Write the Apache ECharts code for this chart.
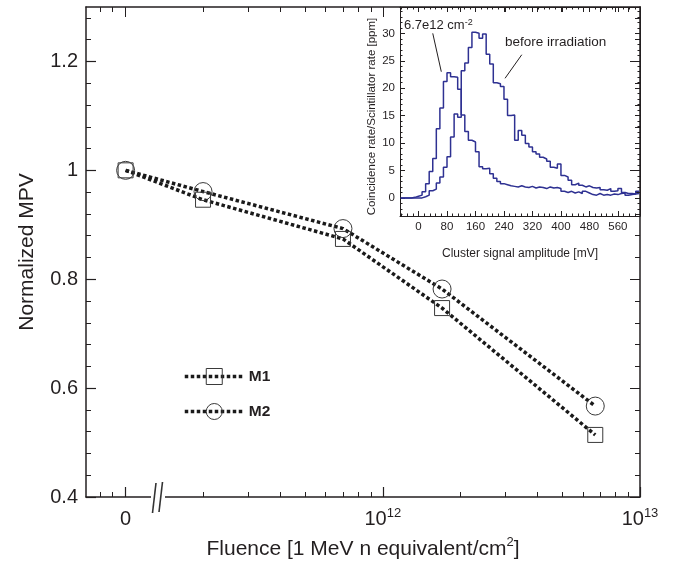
<!DOCTYPE html>
<html><head><meta charset="utf-8">
<script src="https://cdn.jsdelivr.net/npm/echarts@6/dist/echarts.min.js"></script>
<style>html,body{margin:0;padding:0;background:#fff}#c{width:673px;height:572px}</style>
</head><body><div id="c"></div>
<script>
// ---------------- data: main plot ----------------
const fluence = [0, 2e11, 7e11, 1.7e12, 6.7e12];          // 1 MeV n eq / cm^2
const mpvM1   = [1.000, 0.946, 0.874, 0.747, 0.514];
const mpvM2   = [1.000, 0.961, 0.893, 0.782, 0.567];
const seriesNames = ['M1', 'M2'];

const xTickFluence = [0, 1e12, 1e13];
const xTickLabels  = ['0', '10{sup|12}', '10{sup|13}'];
const xMinorFluence = [2e11,3e11,4e11,5e11,6e11,7e11,8e11,9e11,2e12,3e12,4e12,5e12,6e12,7e12,8e12,9e12];
const xLinearMinorPos = [10.9, 10.95];    // minor ticks left of "0" on the linear part
const yMajor = [0.4, 0.6, 0.8, 1.0, 1.2];
const yMinor = [0.44,0.48,0.52,0.56,0.64,0.68,0.72,0.76,0.84,0.88,0.92,0.96,1.04,1.08,1.12,1.16,1.24,1.28];

// ---------------- data: inset histogram ----------------
const binLeft = [-50,-40,-30,-20,-10,0,10,20,30,40,50,60,70,80,90,100,110,120,130,140,150,160,170,180,190,
  200,210,220,230,240,250,260,270,280,290,300,310,320,330,340,350,360,370,380,390,400,410,420,430,440,
  450,460,470,480,490,500,510,520,530,540,550,560,570,580,590,600,610];
const BIN_WIDTH = 10;
const rateBefore = [0,0,0,0,0,0,0.2,0.5,1.3,1.6,2.7,3.8,5.6,7.5,11.1,15.3,14.7,23.2,24.6,27.4,30.2,30.0,29.1,29.9,26.2,
  24.4,21.0,20.8,20.3,18.0,15.0,15.1,10.5,12.3,11.4,9.9,9.3,8.4,8.0,7.4,7.1,6.7,5.6,5.4,6.2,4.1,3.8,3.2,2.4,2.7,
  2.3,2.0,2.2,1.9,1.8,1.9,1.5,1.4,1.7,1.2,1.3,1.7,1.0,0.8,0.8,0.7,1.2];
const rateIrradiated = [0,0,0,0.1,0.3,0.5,1.1,2.6,4.8,7.2,12.6,16.4,21.2,22.8,22.1,22.0,19.8,15.1,12.1,10.5,10.2,8.4,5.7,5.3,5.4,
  4.4,3.6,3.0,2.6,2.4,2.2,2.1,2.0,2.2,2.0,1.9,2.1,1.8,2.0,1.9,1.7,2.0,1.8,1.9,1.7,1.2,1.0,1.2,0.9,1.1,
  0.8,1.2,0.9,0.6,0.5,0.8,0.5,0.6,0.5,0.7,0.6,0.8,0.9,0.5,0.6,0.7,0.8];
const mvTicks = [0,80,160,240,320,400,480,560];
const mvMinor = [-48,-32,-16,16,32,48,64,96,112,128,144,176,192,208,224,256,272,288,304,336,352,368,384,416,432,448,464,496,512,528,544,576,592,608];
const rateTicks = [0,5,10,15,20,25,30];
const rateMinor = [-3,-2,-1,1,2,3,4,6,7,8,9,11,12,13,14,16,17,18,19,21,22,23,24,26,27,28,29,31,32,33,34];
// annotation arrows (data coords of inset): [from, to]
const arrowIrr = [[40, 30.0], [64, 23.0]];
const arrowBefore = [[290, 26.1], [243, 21.8]];

// ---------------- helpers ----------------
const FONT = '"Liberation Sans", Arial, Helvetica, sans-serif';
const INK = '#231f20';
const BLUE = '#2e3192';
const ZERO_POS = 11;            // axis position where fluence 0 is drawn (left of the break)
function pos(f) { return f === 0 ? ZERO_POS : Math.log10(f); }
const X_MIN = 10.846, X_MAX = 13;

function stepData(vals) {
  const d = binLeft.map((x, i) => [x, vals[i]]);
  d.push([binLeft[binLeft.length - 1] + BIN_WIDTH, vals[vals.length - 1]]);
  return d;
}
function tickOnly(gridIndex, position, min, max, values, len, showLine, lw) {
  return {
    type: 'value', gridIndex, position, min, max,
    axisLine: { show: !!showLine, onZero: false, lineStyle: { color: INK, width: lw || 1 } },
    axisTick: { show: true, inside: true, length: len, customValues: values, lineStyle: { color: INK, width: 1 } },
    axisLabel: { show: false }, splitLine: { show: false }
  };
}
const supRich = { sup: { fontSize: 13, lineHeight: 13, verticalAlign: 'top', fontFamily: FONT, color: INK } };

const xMajorPos = xTickFluence.map(pos);
const xMinorPos = xLinearMinorPos.concat(xMinorFluence.map(pos));

const chart = echarts.init(document.getElementById('c'), null, { renderer: 'canvas' });
const option = {
  animation: false,
  backgroundColor: '#fff',
  textStyle: { fontFamily: FONT },
  grid: [
    { left: 86, right: 33, top: 7, bottom: 75 },
    { left: 400, right: 33, top: 7, bottom: 356, show: true, backgroundColor: '#fff', borderWidth: 0 }
  ],
  legend: {
    orient: 'vertical', left: 178, top: 363, itemWidth: 59, itemHeight: 20, itemGap: 18,
    data: seriesNames, selectedMode: false,
    textStyle: { fontSize: 15.5, fontWeight: 'bold', color: INK, fontFamily: FONT },
    itemStyle: { borderWidth: 1 },
    lineStyle: { width: 3.5, type: [3.5, 2.5] }
  },
  xAxis: [
    {
      type: 'value', gridIndex: 0, position: 'bottom', min: X_MIN, max: X_MAX,
      axisLine: { show: true, onZero: false, lineStyle: { color: INK, width: 1.5 } },
      axisTick: { show: true, inside: true, length: 10, customValues: xMajorPos, lineStyle: { color: INK, width: 1.2 } },
      axisLabel: {
        customValues: xMajorPos, margin: 10, fontSize: 20, lineHeight: 24, color: INK, fontFamily: FONT,
        showMinLabel: true, showMaxLabel: true, hideOverlap: false,
        formatter: function (v) {
          for (let i = 0; i < xMajorPos.length; i++) if (Math.abs(xMajorPos[i] - v) < 1e-6) return xTickLabels[i];
          return '';
        },
        rich: supRich
      },
      splitLine: { show: false },
      name: 'Fluence [1 MeV n equivalent/cm{sup|2}]', nameLocation: 'middle', nameGap: 38,
      nameTextStyle: { fontSize: 21, color: INK, fontFamily: FONT, lineHeight: 26, rich: supRich }
    },
    tickOnly(0, 'bottom', X_MIN, X_MAX, xMinorPos, 5, false),
    tickOnly(0, 'top', X_MIN, X_MAX, xMajorPos, 10, true, 1.5),
    tickOnly(0, 'top', X_MIN, X_MAX, xMinorPos, 5, false),
    {
      type: 'value', gridIndex: 1, position: 'bottom', min: -52, max: 622,
      axisLine: { show: true, onZero: false, lineStyle: { color: INK, width: 1 } },
      axisTick: { show: true, inside: true, length: 5, customValues: mvTicks, lineStyle: { color: INK, width: 1 } },
      axisLabel: { customValues: mvTicks, margin: 5, fontSize: 11.5, color: INK, fontFamily: FONT, hideOverlap: false },
      splitLine: { show: false },
      name: 'Cluster signal amplitude [mV]', nameLocation: 'middle', nameGap: 32,
      nameTextStyle: { fontSize: 12, color: INK, fontFamily: FONT }
    },
    tickOnly(1, 'bottom', -52, 622, mvMinor, 2.5, false),
    tickOnly(1, 'top', -52, 622, mvTicks, 5, true, 1),
    tickOnly(1, 'top', -52, 622, mvMinor, 2.5, false)
  ],
  yAxis: [
    {
      type: 'value', gridIndex: 0, position: 'left', min: 0.4, max: 1.3,
      axisLine: { show: true, onZero: false, lineStyle: { color: INK, width: 1.5 } },
      axisTick: { show: true, inside: true, length: 10, customValues: yMajor, lineStyle: { color: INK, width: 1.2 } },
      axisLabel: { customValues: yMajor, margin: 8, fontSize: 20, color: INK, fontFamily: FONT, hideOverlap: false },
      splitLine: { show: false },
      name: 'Normalized MPV', nameLocation: 'middle', nameGap: 48,
      nameTextStyle: { fontSize: 21, color: INK, fontFamily: FONT }
    },
    tickOnly(0, 'left', 0.4, 1.3, yMinor, 5, false),
    tickOnly(0, 'right', 0.4, 1.3, yMajor, 10, true, 1.5),
    tickOnly(0, 'right', 0.4, 1.3, yMinor, 5, false),
    {
      type: 'value', gridIndex: 1, position: 'left', min: -3.3, max: 34.8,
      axisLine: { show: true, onZero: false, lineStyle: { color: INK, width: 1 } },
      axisTick: { show: true, inside: true, length: 5, customValues: rateTicks, lineStyle: { color: INK, width: 1 } },
      axisLabel: { customValues: rateTicks, margin: 5, fontSize: 11.5, color: INK, fontFamily: FONT, hideOverlap: false },
      splitLine: { show: false },
      name: 'Coincidence rate/Scintillator rate [ppm]', nameLocation: 'middle', nameGap: 16,
      nameTextStyle: { fontSize: 11.5, color: INK, fontFamily: FONT, padding: [0, 10, 0, 0] }
    },
    tickOnly(1, 'left', -3.3, 34.8, rateMinor, 2.5, false),
    tickOnly(1, 'right', -3.3, 34.8, rateTicks, 5, true, 1),
    tickOnly(1, 'right', -3.3, 34.8, rateMinor, 2.5, false)
  ],
  series: [
    {
      name: seriesNames[0], type: 'line', xAxisIndex: 0, yAxisIndex: 0, silent: true,
      data: fluence.map((f, i) => [pos(f), mpvM1[i]]),
      symbol: 'rect', symbolSize: 15,
      itemStyle: { color: 'rgba(0,0,0,0)', borderColor: '#3a3a3a', borderWidth: 1 },
      lineStyle: { color: '#1a1a1a', width: 3.5, type: [3.5, 2.5] }, z: 3
    },
    {
      name: seriesNames[1], type: 'line', xAxisIndex: 0, yAxisIndex: 0, silent: true,
      data: fluence.map((f, i) => [pos(f), mpvM2[i]]),
      symbol: 'circle', symbolSize: 18,
      itemStyle: { color: 'rgba(0,0,0,0)', borderColor: '#3a3a3a', borderWidth: 1 },
      lineStyle: { color: '#1a1a1a', width: 3.5, type: [3.5, 2.5] }, z: 3
    },
    {
      name: 'irradiated', type: 'line', xAxisIndex: 4, yAxisIndex: 4, silent: true,
      data: stepData(rateIrradiated), step: 'end', symbol: 'none', clip: true,
      lineStyle: { color: BLUE, width: 1.5 }
    },
    {
      name: 'before', type: 'line', xAxisIndex: 4, yAxisIndex: 4, silent: true,
      data: stepData(rateBefore), step: 'end', symbol: 'none', clip: true,
      lineStyle: { color: BLUE, width: 1.5 },
      markLine: {
        silent: true, symbol: ['none', 'arrow'], symbolSize: [0, 8], animation: false,
        lineStyle: { color: INK, width: 1, type: 'solid' }, label: { show: false },
        data: [
          [{ coord: arrowIrr[0] }, { coord: arrowIrr[1] }],
          [{ coord: arrowBefore[0] }, { coord: arrowBefore[1] }]
        ]
      }
    }
  ],
  graphic: [
    { type: 'rect', z: 100, shape: { x: 151, y: 492, width: 14, height: 9 }, style: { fill: '#fff' } },
    { type: 'line', z: 101, shape: { x1: 156, y1: 483, x2: 152.5, y2: 513 }, style: { stroke: '#333', lineWidth: 1.6 } },
    { type: 'line', z: 101, shape: { x1: 162.5, y1: 482, x2: 159, y2: 512 }, style: { stroke: '#333', lineWidth: 1.6 } },
    { type: 'text', z: 101, x: 404, y: 25, style: { text: '6.7e12 cm{sup|-2}', fill: INK, font: '13px ' + FONT, verticalAlign: 'middle', align: 'left',
        rich: { sup: { fontSize: 9, lineHeight: 9, verticalAlign: 'top', fill: INK, fontFamily: FONT } } } },
    { type: 'text', z: 101, x: 505, y: 42, style: { text: 'before irradiation', fill: INK, font: '13.5px ' + FONT, verticalAlign: 'middle', align: 'left' } }
  ]
};
chart.setOption(option);
</script>
</body></html>
